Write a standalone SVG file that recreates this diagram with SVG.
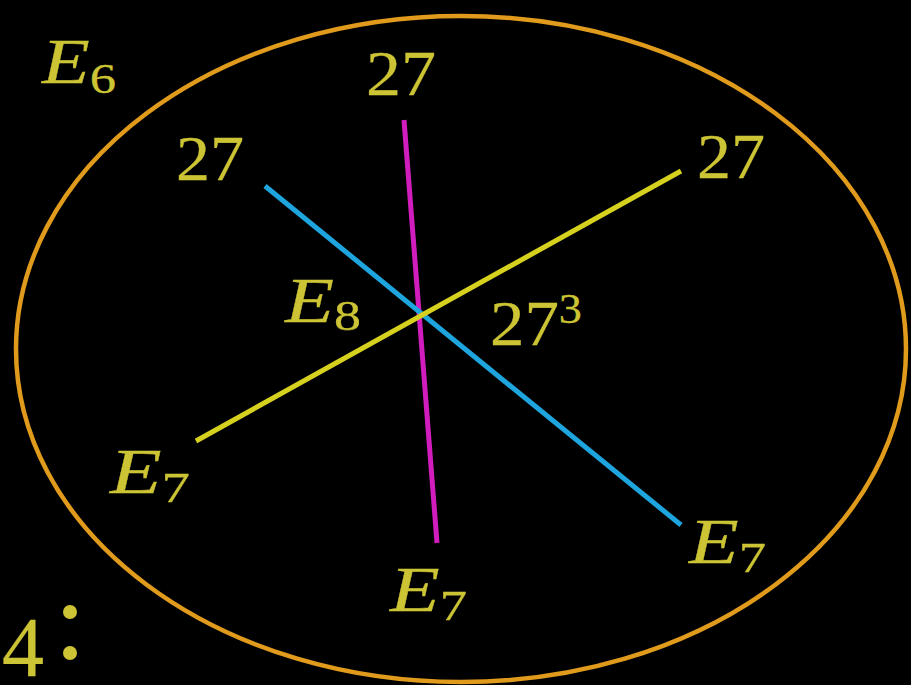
<svg xmlns="http://www.w3.org/2000/svg" width="911" height="685" viewBox="0 0 911 685">
<style>
.t{font-family:"Liberation Serif","DejaVu Serif",serif;fill:#CCC434;stroke:#CCC434;stroke-width:0.3;font-size:64px}
.i{font-style:italic}
.s{font-size:43px;font-style:normal}
.ln{stroke-width:5;stroke-linecap:butt;fill:none}
</style>
<rect width="911" height="685" fill="#000"/>
<g id="ellipse"><ellipse cx="461" cy="349" rx="445" ry="333" fill="none" stroke="#E09A1C" stroke-width="4.5"/></g>
<g id="connectors">
<line class="ln" x1="404" y1="120" x2="437" y2="543" stroke="#D21DBE"/>
<line class="ln" x1="265" y1="186" x2="681" y2="525" stroke="#1FA5DE"/>
<line class="ln" x1="196" y1="441" x2="681" y2="171" stroke="#D6D01E"/>
</g>
<g id="E6"><text class="t" x="42" y="83" textLength="74" lengthAdjust="spacingAndGlyphs"><tspan class="i">E</tspan><tspan class="s" dy="10">6</tspan></text></g>
<g id="n27top"><text class="t" x="366" y="95" textLength="70" lengthAdjust="spacingAndGlyphs">27</text></g>
<g id="n27left"><text class="t" x="176" y="180" textLength="68" lengthAdjust="spacingAndGlyphs">27</text></g>
<g id="n27right"><text class="t" x="697" y="178" textLength="68" lengthAdjust="spacingAndGlyphs">27</text></g>
<g id="E8"><text class="t" x="285" y="322" textLength="76" lengthAdjust="spacingAndGlyphs"><tspan class="i">E</tspan><tspan class="s" dy="8">8</tspan></text></g>
<g id="n27cube"><text class="t" x="490" y="345" textLength="92" lengthAdjust="spacingAndGlyphs">27<tspan class="s" dy="-22">3</tspan></text></g>
<g id="E7left"><text class="t" x="110" y="493" textLength="80" lengthAdjust="spacingAndGlyphs"><tspan class="i">E</tspan><tspan class="s" dy="9">7</tspan></text></g>
<g id="E7bottom"><text class="t" x="390" y="611" textLength="77" lengthAdjust="spacingAndGlyphs"><tspan class="i">E</tspan><tspan class="s" dy="9">7</tspan></text></g>
<g id="E7right"><text class="t" x="689" y="563" textLength="77" lengthAdjust="spacingAndGlyphs"><tspan class="i">E</tspan><tspan class="s" dy="9">7</tspan></text></g>
<g id="four"><text class="t" x="2" y="676" style="font-size:84px">4</text>
<circle cx="70" cy="612" r="7" fill="#CCC434"/><circle cx="70" cy="653" r="7" fill="#CCC434"/></g>
</svg>
